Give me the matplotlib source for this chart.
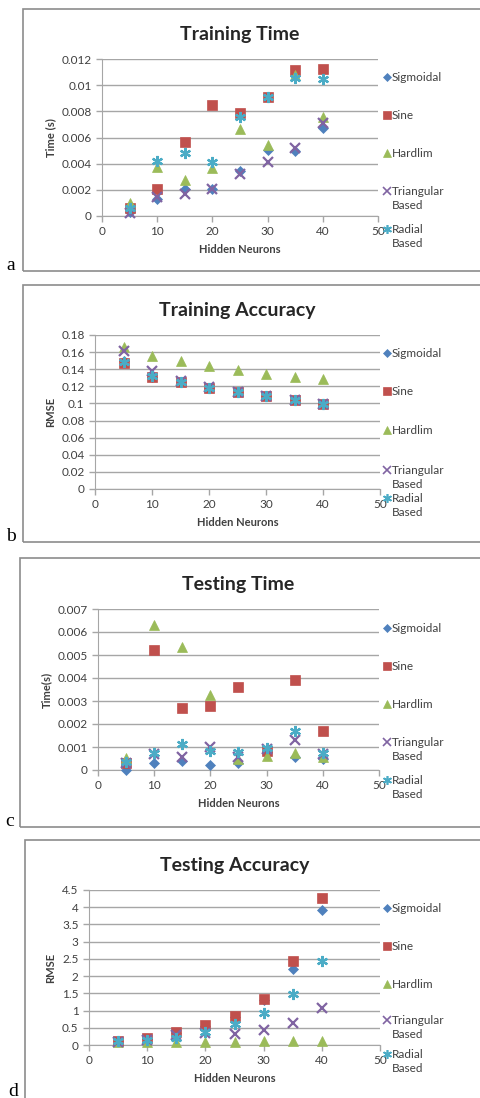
import matplotlib
matplotlib.use("Agg")
import matplotlib.pyplot as plt
from matplotlib.patches import Rectangle
from matplotlib.lines import Line2D

## Data ##
neurons = [5, 10, 15, 20, 25, 30, 35, 40]
series_names = ["Sigmoidal", "Sine", "Hardlim", "Triangular\nBased", "Radial\nBased"]

# Training time (s)
train_time_sigmoidal = [0.00033, 0.00133, 0.00204, 0.00204, 0.00345, 0.00506, 0.00500, 0.00672]
train_time_sine = [0.00064, 0.00204, 0.00562, 0.00850, 0.00787, 0.00907, 0.01116, 0.01127]
train_time_hardlim = [0.00097, 0.00378, 0.00276, 0.00370, 0.00664, 0.00542, 0.01080, 0.00760]
train_time_triangular = [0.00026, 0.00148, 0.00170, 0.00204, 0.00320, 0.00410, 0.00520, 0.00710]
train_time_radial = [0.00064, 0.00424, 0.00485, 0.00416, 0.00760, 0.00907, 0.01055, 0.01050]

# Training accuracy (RMSE)
train_rmse_sigmoidal = [0.150, 0.131, 0.1245, 0.118, 0.1139, 0.1088, 0.1045, 0.0998]
train_rmse_sine = [0.1476, 0.131, 0.1245, 0.118, 0.1139, 0.1088, 0.1045, 0.0998]
train_rmse_hardlim = [0.1656, 0.1558, 0.150, 0.144, 0.139, 0.1346, 0.131, 0.128]
train_rmse_triangular = [0.1617, 0.1378, 0.126, 0.119, 0.1139, 0.1088, 0.1045, 0.0998]
train_rmse_radial = [0.1487, 0.132, 0.1245, 0.118, 0.1139, 0.1088, 0.1045, 0.0998]

# Testing time (s)
test_time_sigmoidal = [0.0, 0.00032, 0.00040, 0.00020, 0.00032, 0.00080, 0.00058, 0.00048]
test_time_sine = [0.00030, 0.00520, 0.00270, 0.00280, 0.00360, 0.00084, 0.00390, 0.00170]
test_time_hardlim = [0.00054, 0.00630, 0.00534, 0.00324, 0.00048, 0.00060, 0.00072, 0.00055]
test_time_triangular = [0.00030, 0.00070, 0.00058, 0.00100, 0.00055, 0.00090, 0.00130, 0.00070]
test_time_radial = [0.00036, 0.00072, 0.00112, 0.00084, 0.00080, 0.00094, 0.00170, 0.00072]

# Testing accuracy (RMSE)
test_rmse_sigmoidal = [0.12, 0.18, 0.35, 0.55, 0.80, 1.30, 2.22, 3.92]
test_rmse_sine = [0.126, 0.19, 0.39, 0.58, 0.84, 1.33, 2.45, 4.26]
test_rmse_hardlim = [0.10, 0.10, 0.08, 0.10, 0.10, 0.12, 0.12, 0.12]
test_rmse_triangular = [0.10, 0.15, 0.30, 0.34, 0.31, 0.44, 0.65, 1.08]
test_rmse_radial = [0.12, 0.15, 0.19, 0.37, 0.61, 0.92, 1.48, 2.44]

## Style ##
W, H = 481, 1098
colors = ["#4F81BD", "#C0504D", "#9BBB59", "#8064A2", "#4BACC6"]
markers = ["D", "s", "^", "x", (6, 2, 0)]
msizes = [5.5, 7, 7.5, 7, 8]
grid_c = "#a6a6a6"
text_c = "#404040"
plt.rcParams["font.family"] = ["Lato", "DejaVu Sans"]

fig = plt.figure(figsize=(W / 100, H / 100), dpi=100)


def fig_rect(left, top, right, bottom):
    return [left / W, 1 - bottom / H, (right - left) / W, (bottom - top) / H]


def draw_panel(box, axbox, title, ylabel, data, yticks, ylabels, letter, letter_pos, legend_y):
    # outer frame of the pasted chart
    bl, bt, bb = box
    fig.add_artist(Rectangle((bl / W, 1 - bb / H), (520 - bl) / W, (bb - bt) / H,
                             transform=fig.transFigure, fill=False,
                             edgecolor="#8c8c8c", lw=1.2, clip_on=False))
    fig.text(letter_pos[0] / W, 1 - letter_pos[1] / H, letter, family="Liberation Serif",
             fontsize=14, ha="left", va="baseline")

    ax = fig.add_axes(fig_rect(*axbox))
    for vals, c, m, ms in zip(data, colors, markers, msizes):
        mew = 1.6 if m in ("x", (6, 2, 0)) else 0.5
        ax.plot(neurons, vals, linestyle="none", marker=m, color=c, markersize=ms,
                markeredgewidth=mew, clip_on=False, zorder=3)
    ax.set_xlim(0, 50)
    ax.set_ylim(yticks[0], yticks[-1])
    ax.set_xticks(range(0, 51, 10))
    ax.set_yticks(yticks)
    ax.set_yticklabels(ylabels)
    ax.grid(axis="y", color=grid_c, lw=1)
    ax.set_axisbelow(True)
    for s in ("top", "right"):
        ax.spines[s].set_visible(False)
    for s in ("left", "bottom"):
        ax.spines[s].set_color(grid_c)
    ax.tick_params(colors=grid_c, labelcolor=text_c, labelsize=8.5, length=4, width=1)
    ax.set_title(title, fontsize=14, fontweight="bold", color="#262626", pad=14)
    ax.set_xlabel("Hidden Neurons", fontsize=8, fontweight="bold", color=text_c, labelpad=5)
    ax.set_ylabel(ylabel, fontsize=8, fontweight="bold", color=text_c)

    # legend, Excel style (marker beside first line of each label)
    for name, c, m, ms, ly in zip(series_names, colors, markers, msizes, legend_y):
        mew = 1.2 if m in ("x", (6, 2, 0)) else 0.5
        fig.add_artist(Line2D([387 / W], [1 - ly / H], transform=fig.transFigure,
                              marker=m, color=c, markersize=ms * 0.8, markeredgewidth=mew,
                              linestyle="none"))
        fig.text(392 / W, 1 - (ly - 5) / H, name, fontsize=8.5, color=text_c,
                 ha="left", va="top", linespacing=1.3)
    return ax


ax_a = draw_panel((23, 9, 271), (102, 59, 378, 216), "Training Time", "Time (s)",
                  [train_time_sigmoidal, train_time_sine, train_time_hardlim,
                   train_time_triangular, train_time_radial],
                  [0, 0.002, 0.004, 0.006, 0.008, 0.01, 0.012],
                  ["0", "0.002", "0.004", "0.006", "0.008", "0.01", "0.012"],
                  "a", (6, 270), [77, 115, 153, 191, 229])

ax_b = draw_panel((23, 285, 542), (95, 335, 380, 489), "Training Accuracy", "RMSE",
                  [train_rmse_sigmoidal, train_rmse_sine, train_rmse_hardlim,
                   train_rmse_triangular, train_rmse_radial],
                  [0, 0.02, 0.04, 0.06, 0.08, 0.1, 0.12, 0.14, 0.16, 0.18],
                  ["0", "0.02", "0.04", "0.06", "0.08", "0.1", "0.12", "0.14", "0.16", "0.18"],
                  "b", (6, 541), [353, 391, 430, 470, 498])

ax_c = draw_panel((20, 558, 827), (98, 609, 379, 770), "Testing Time", "Time(s)",
                  [test_time_sigmoidal, test_time_sine, test_time_hardlim,
                   test_time_triangular, test_time_radial],
                  [0, 0.001, 0.002, 0.003, 0.004, 0.005, 0.006, 0.007],
                  ["0", "0.001", "0.002", "0.003", "0.004", "0.005", "0.006", "0.007"],
                  "c", (5, 826), [628, 666, 704, 742, 780])

ax_d = draw_panel((25, 840, 1110), (89, 890, 380, 1045), "Testing Accuracy", "RMSE",
                  [test_rmse_sigmoidal, test_rmse_sine, test_rmse_hardlim,
                   test_rmse_triangular, test_rmse_radial],
                  [0, 0.5, 1, 1.5, 2, 2.5, 3, 3.5, 4, 4.5],
                  ["0", "0.5", "1", "1.5", "2", "2.5", "3", "3.5", "4", "4.5"],
                  "d", (8, 1096), [908, 946, 984, 1020, 1054])

fig.savefig("out.png", dpi=100)
